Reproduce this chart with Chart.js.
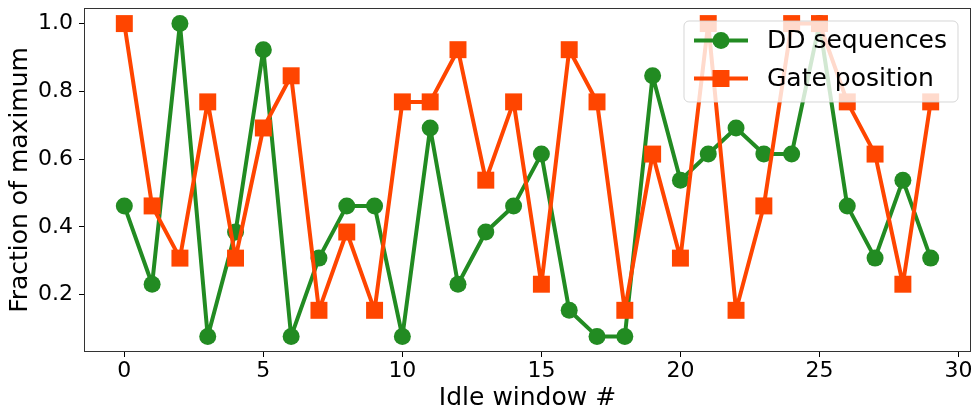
<!DOCTYPE html>
<html>
<head>
<meta charset="utf-8">
<script src="https://cdn.jsdelivr.net/npm/chart.js@4"></script>
<style>
  html, body { margin: 0; padding: 0; background: #fff; }
  #wrap { width: 975px; height: 419px; }
</style>
</head>
<body>
<div id="wrap"><canvas id="idleChart" width="975" height="419"></canvas></div>
<script>
// values (steps of 1/13)
const windows = [0, 1, 2, 3, 4, 5, 6, 7, 8, 9, 10, 11, 12, 13, 14, 15, 16, 17, 18, 19, 20, 21, 22, 23, 24, 25, 26, 27, 28, 29];
const ddSequences = [0.462, 0.231, 1.0, 0.077, 0.385, 0.923, 0.077, 0.308, 0.462, 0.462, 0.077, 0.692, 0.231, 0.385, 0.462, 0.615, 0.154, 0.077, 0.077, 0.846, 0.538, 0.615, 0.692, 0.615, 0.615, 1.0, 0.462, 0.308, 0.538, 0.308];
const gatePosition = [1.0, 0.462, 0.308, 0.769, 0.308, 0.692, 0.846, 0.154, 0.385, 0.154, 0.769, 0.769, 0.923, 0.538, 0.769, 0.231, 0.923, 0.769, 0.154, 0.615, 0.308, 1.0, 0.154, 0.462, 1.0, 1.0, 0.769, 0.615, 0.231, 0.769];
const xTicks = [0, 5, 10, 15, 20, 25, 30];
const yTicks = [0.2, 0.4, 0.6, 0.8, 1.0];
const yTickLabels = ['0.2', '0.4', '0.6', '0.8', '1.0'];
const seriesNames = ['DD sequences', 'Gate position'];

const FONT = 'DejaVu Sans';
const TICK_SIZE = 22;
const LABEL_SIZE = 25;

function toPoints(vals) {
    return windows.map((w, i) => ({ x: w, y: vals[i] }));
}

// frame round the plot area + legend box in the top-right corner
const framePlugin = {
    id: 'frame',
    afterDatasetsDraw(chart) {
        const { ctx, chartArea: a } = chart;
        ctx.save();
        ctx.strokeStyle = '#333';
        ctx.lineWidth = 1;
        ctx.strokeRect(Math.round(a.left) + 0.5, Math.round(a.top) + 0.5,
            Math.round(a.right - a.left) - 1, Math.round(a.bottom - a.top) - 1);

        // legend
        const boxW = 274, boxH = 81;
        const bx = a.right - 13 - boxW, by = a.top + 13;
        ctx.beginPath();
        ctx.roundRect(bx, by, boxW, boxH, 5);
        ctx.fillStyle = 'rgba(255,255,255,0.8)';
        ctx.fill();
        ctx.strokeStyle = 'rgba(204,204,204,0.8)';
        ctx.lineWidth = 1;
        ctx.stroke();

        chart.data.datasets.forEach((ds, i) => {
            const rowY = by + 19.5 + i * 38;
            const x0 = bx + 10, x1 = bx + 64, xm = (x0 + x1) / 2;
            ctx.strokeStyle = ds.borderColor;
            ctx.lineWidth = ds.borderWidth;
            ctx.beginPath();
            ctx.moveTo(x0, rowY);
            ctx.lineTo(x1, rowY);
            ctx.stroke();
            ctx.fillStyle = ds.backgroundColor;
            ctx.beginPath();
            if (ds.pointStyle === 'rect') {
                const s = ds.pointRadius * Math.SQRT1_2;
                ctx.rect(xm - s, rowY - s, 2 * s, 2 * s);
            } else {
                ctx.arc(xm, rowY, ds.pointRadius, 0, Math.PI * 2);
            }
            ctx.fill();
            ctx.fillStyle = '#000';
            ctx.font = LABEL_SIZE + 'px "' + FONT + '"';
            ctx.textBaseline = 'middle';
            ctx.textAlign = 'left';
            ctx.fillText(ds.label, bx + 83, rowY + 1);
        });
        ctx.restore();
    }
};

const ctx = document.getElementById('idleChart').getContext('2d');
new Chart(ctx, {
    type: 'line',
    data: {
        datasets: [{
            label: seriesNames[0],
            data: toPoints(ddSequences),
            borderColor: '#228B22',
            backgroundColor: '#228B22',
            borderWidth: 4,
            borderJoinStyle: 'round',
            pointStyle: 'circle',
            pointRadius: 8.5,
            pointBorderWidth: 0,
            order: 1
        }, {
            label: seriesNames[1],
            data: toPoints(gatePosition),
            borderColor: '#FF4500',
            backgroundColor: '#FF4500',
            borderWidth: 4,
            borderJoinStyle: 'round',
            pointStyle: 'rect',
            pointRadius: 12,
            pointBorderWidth: 0,
            order: 0
        }]
    },
    options: {
        responsive: false,
        animation: false,
        devicePixelRatio: 1,
        layout: { autoPadding: false, padding: { top: 8, right: 4, left: 0, bottom: 0 } },
        plugins: {
            legend: { display: false },
            tooltip: { enabled: false }
        },
        elements: { line: { tension: 0 } },
        scales: {
            x: {
                type: 'linear',
                min: -1.45,
                max: 30.45,
                afterBuildTicks: (s) => { s.ticks = xTicks.map(v => ({ value: v })); },
                afterFit: (s) => { s.height = 67; s.paddingLeft = 0; s.paddingRight = 0; },
                grid: { display: true, drawOnChartArea: false, drawTicks: true, tickLength: 5, color: '#000', lineWidth: 1 },
                border: { display: false },
                ticks: {
                    color: '#000',
                    padding: 1,
                    maxRotation: 0,
                    font: { family: FONT, size: TICK_SIZE },
                    callback: (v) => String(v)
                },
                title: {
                    display: true,
                    text: 'Idle window #',
                    color: '#000',
                    padding: { top: 0, bottom: 6 },
                    font: { family: FONT, size: LABEL_SIZE }
                }
            },
            y: {
                min: 0.031,
                max: 1.046,
                afterBuildTicks: (s) => { s.ticks = yTicks.map(v => ({ value: v })); },
                afterFit: (s) => { s.width = 84; s.paddingTop = 0; s.paddingBottom = 0; },
                grid: { display: true, drawOnChartArea: false, drawTicks: true, tickLength: 5, color: '#000', lineWidth: 1 },
                border: { display: false },
                ticks: {
                    color: '#000',
                    padding: 6,
                    font: { family: FONT, size: TICK_SIZE },
                    callback: (v) => yTickLabels[yTicks.findIndex(t => Math.abs(t - v) < 1e-9)]
                },
                title: {
                    display: true,
                    text: 'Fraction of maximum',
                    color: '#000',
                    padding: { top: 5, bottom: 0 },
                    font: { family: FONT, size: LABEL_SIZE }
                }
            }
        }
    },
    plugins: [framePlugin]
});
</script>
</body>
</html>
